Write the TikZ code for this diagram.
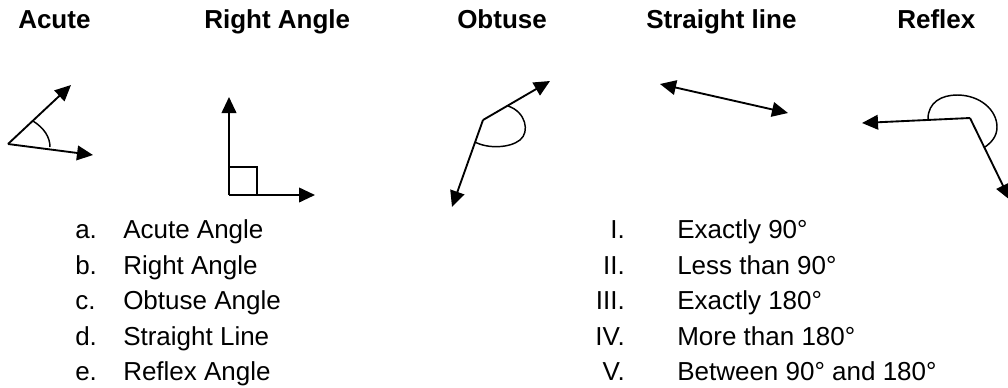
\documentclass[tikz,border=0pt]{standalone}
\usepackage{fontspec}
\setmainfont{Liberation Sans}
\usetikzlibrary{arrows.meta}

\begin{document}
\begin{tikzpicture}[x=0.75pt,y=-0.75pt,
  ray/.style={line width=1.4pt,-{Triangle[length=12pt,width=11pt]}},
  bothray/.style={line width=1.4pt,{Triangle[length=12pt,width=11pt]}-{Triangle[length=12pt,width=11pt]}},
  anglemark/.style={line width=1.1pt},
  title/.style={font=\fontsize{19.5}{23}\selectfont\bfseries,anchor=base west,inner sep=0pt},
  item/.style={font=\fontsize{19.5}{23}\selectfont,anchor=base west,inner sep=0pt},
  numeral/.style={font=\fontsize{19.5}{23}\selectfont,anchor=base east,inner sep=0pt}]

\useasboundingbox (0,0) rectangle (1008,387);

% column headings
\node[title] (tAcute) at (18,28) {Acute};
\node[title] (tRight) at (204,28) {Right Angle};
\node[title] (tObtuse) at (457,28) {Obtuse};
\node[title] (tStraight) at (646,28) {Straight line};
\node[title] (tReflex) at (897,28) {Reflex};

% acute angle
\coordinate (aV) at (8,144);
\coordinate (aU) at (71,85);
\coordinate (aL) at (93,155);
\draw[ray] (aV) -- (aU);
\draw[ray] (aV) -- (aL);
\draw[anglemark] (33,121) .. controls (44,128) and (50,137) .. (50,147);

% right angle
\coordinate (rV) at (229,195);
\coordinate (rU) at (229,97);
\coordinate (rR) at (315,195);
\draw[ray] (rV) -- (rU);
\draw[ray] (rV) -- (rR);
\draw[line width=1.1pt] (229,167) -- (257,167) -- (257,195);

% obtuse angle
\coordinate (oV) at (483,120);
\coordinate (oU) at (550,81);
\coordinate (oL) at (452,207);
\draw[ray] (oV) -- (oU);
\draw[ray] (oV) -- (oL);
\draw[anglemark] (508,106) .. controls (526,112) and (530,132) .. (520,140)
  .. controls (510,148) and (488,149) .. (475,142);

% straight line
\coordinate (sL) at (660,84);
\coordinate (sR) at (788,113);
\draw[bothray] (sL) -- (sR);

% reflex angle
\coordinate (xV) at (970,118);
\coordinate (xL) at (862,123);
\coordinate (xD) at (1010,200);
\draw[ray] (xV) -- (xL);
\draw[ray] (xV) -- (xD);
\draw[anglemark] (928,119) .. controls (928,102) and (942,95) .. (957,95)
  .. controls (980,95) and (997,110) .. (997,127)
  .. controls (997,136) and (992,142) .. (985,147);

% angle names
\node[item] (la) at (75,238.5) {a.};
\node[item] (lb) at (75,274) {b.};
\node[item] (lc) at (75,309.5) {c.};
\node[item] (ld) at (75,345) {d.};
\node[item] (le) at (75,380.5) {e.};
\node[item] (na) at (123,238.5) {Acute Angle};
\node[item] (nb) at (123,274) {Right Angle};
\node[item] (nc) at (123,309.5) {Obtuse Angle};
\node[item] (nd) at (123,345) {Straight Line};
\node[item] (ne) at (123,380.5) {Reflex Angle};

% angle sizes
\node[numeral] (r1) at (625,238.5) {I.};
\node[numeral] (r2) at (625,274) {II.};
\node[numeral] (r3) at (625,309.5) {III.};
\node[numeral] (r4) at (625,345) {IV.};
\node[numeral] (r5) at (625,380.5) {V.};
\node[item] (d1) at (677,238.5) {Exactly 90°};
\node[item] (d2) at (677,274) {Less than 90°};
\node[item] (d3) at (677,309.5) {Exactly 180°};
\node[item] (d4) at (677,345) {More than 180°};
\node[item] (d5) at (677,380.5) {Between 90° and 180°};
\end{tikzpicture}
\end{document}
